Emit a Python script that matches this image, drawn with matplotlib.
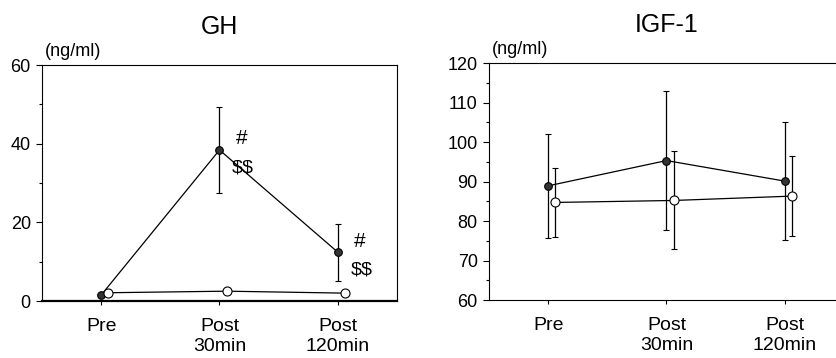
import matplotlib.pyplot as plt
from matplotlib.ticker import MultipleLocator
import numpy as np

plt.rcParams['font.family'] = ['Liberation Sans', 'DejaVu Sans']

groups = ['Pre', 'Post\n30min', 'Post\n120min']

# GH (ng/ml)
gh_filled = [1.5, 38.4, 12.4]
gh_filled_sd = [0.4, 10.9, 7.3]
gh_open = [2.1, 2.5, 2.0]
gh_open_sd = [0.0, 0.0, 0.0]
gh_marks = [None, ('#', '$$'), ('#', '$$')]

# IGF-1 (ng/ml)
igf_filled = [88.9, 95.3, 90.1]
igf_filled_sd = [13.1, 17.5, 15.0]
igf_open = [84.7, 85.2, 86.3]
igf_open_sd = [8.7, 12.4, 10.1]

x = np.arange(len(groups))
shift = 0.06


def panel(ax, title, filled, filled_sd, opened, opened_sd, ylim, major, minor,
          bottom_lw=0.8):
    ax.errorbar(x, filled, yerr=filled_sd, color='black', lw=0.9,
                elinewidth=0.9, capsize=2, capthick=0.9, marker='o',
                ms=5.5, mfc='#333333', mec='black', mew=0.8, zorder=3)
    ax.errorbar(x + shift, opened, yerr=opened_sd, color='black', lw=0.9,
                elinewidth=0.9, capsize=2, capthick=0.9, marker='o',
                ms=6.5, mfc='white', mec='black', mew=0.8, zorder=4)
    ax.set_xlim(-0.5, 2.5)
    ax.set_ylim(*ylim)
    ax.yaxis.set_major_locator(MultipleLocator(major))
    ax.yaxis.set_minor_locator(MultipleLocator(minor))
    ax.set_xticks(x)
    ax.set_xticklabels(groups, fontsize=14, linespacing=1.22)
    ax.tick_params(axis='y', which='major', direction='out', length=4,
                   width=0.8, labelsize=13, pad=4)
    ax.tick_params(axis='y', which='minor', direction='out', length=2,
                   width=0.8)
    ax.tick_params(axis='x', direction='out', length=3, width=0.8, pad=9)
    for s in ax.spines.values():
        s.set_linewidth(0.8)
    ax.spines['bottom'].set_linewidth(bottom_lw)
    ax.set_title(title, fontsize=18, pad=22)
    ax.text(0.008, 1.02, '(ng/ml)', transform=ax.transAxes, fontsize=13,
            ha='left', va='bottom')


fig = plt.figure(figsize=(8.36, 3.58), dpi=100)
ax1 = fig.add_axes([0.0502, 0.1592, 0.4247, 0.6592])
ax2 = fig.add_axes([0.5849, 0.1620, 0.4246, 0.6620])

panel(ax1, 'GH', gh_filled, gh_filled_sd, gh_open, gh_open_sd,
      (0, 60), 20, 10, bottom_lw=1.6)
panel(ax2, 'IGF-1', igf_filled, igf_filled_sd, igf_open, igf_open_sd,
      (60, 120), 10, 5)

for i, m in enumerate(gh_marks):
    if m is None:
        continue
    ax1.annotate(m[0], (x[i], gh_filled[i]), xytext=(16, 8),
                 textcoords='offset points', fontsize=15, ha='center',
                 va='center', annotation_clip=False)
    ax1.annotate(m[1], (x[i], gh_filled[i]), xytext=(17, -13),
                 textcoords='offset points', fontsize=14, ha='center',
                 va='center', parse_math=False)

fig.savefig('out.png', dpi=100)
